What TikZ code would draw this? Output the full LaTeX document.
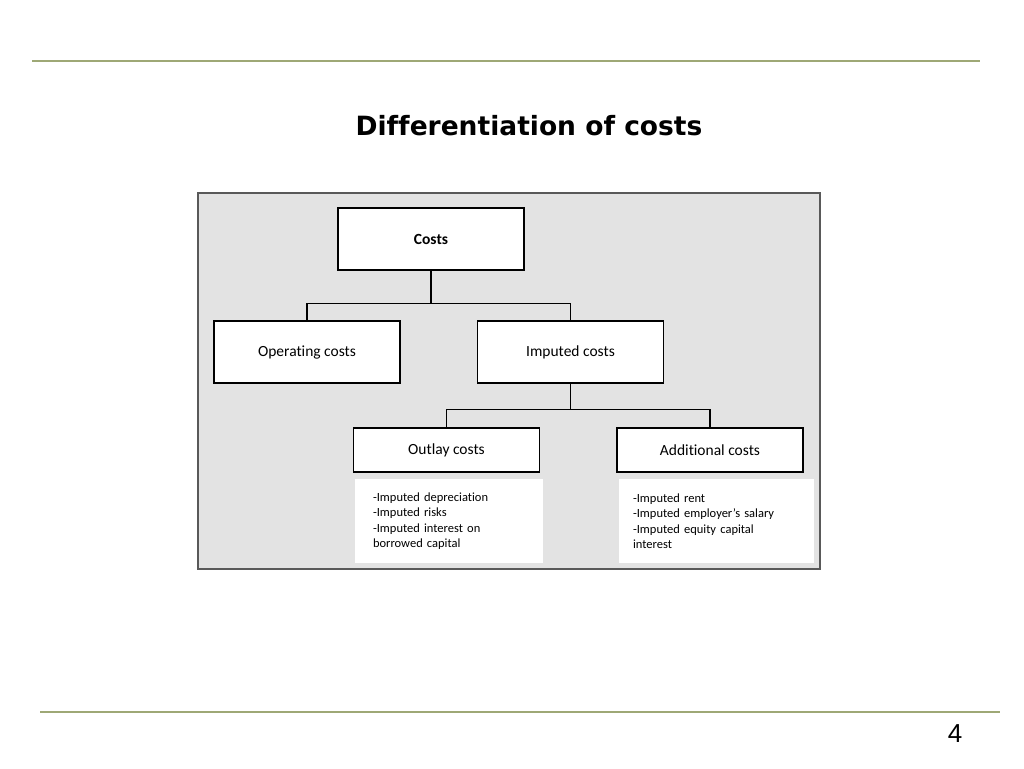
\documentclass[tikz,border=0pt]{standalone}
\usepackage{fontspec}
\setmainfont{Carlito}[Ligatures=NoCommon]
\newfontfamily\titlefont{DejaVu Sans}[Ligatures=NoCommon]
\newfontfamily\pagefont{Liberation Sans}
\usepackage{tikz}
\definecolor{ruleLine}{RGB}{158,168,118}
\colorlet{panel}{black!11}
\colorlet{panelEdge}{black!65}

\begin{document}
\begin{tikzpicture}[
  x=1pt,
  y=-1pt,
  every box/.style={
    draw=black,
    line width=1.3pt,
    fill=white,
    minimum width=186pt,
  },
  big box/.style={
    every box,
    minimum height=62pt,
    font=\fontsize{15.5}{18}\selectfont,
  },
  small box/.style={
    every box,
    minimum height=44pt,
    font=\fontsize{15.5}{18}\selectfont,
  },
  detail box/.style={
    fill=white,
    align=left,
    minimum height=84pt,
    font=\fontsize{12.5}{15.5}\selectfont,
  },
  link/.style={
    draw=black,
    line width=1.2pt,
  }
]
\useasboundingbox (0,0) rectangle (1024,768);
% rules and page number
\draw[ruleLine,line width=1.2pt] (32,61) -- (980,61);
\draw[ruleLine,line width=1.2pt] (40,712) -- (1000,712);
\node[font=\pagefont\fontsize{26}{30}\selectfont] (page) at (955,734) {4};
\node[font=\titlefont\bfseries\fontsize{26.5}{31}\selectfont] (title) at (529,126) {Differentiation of costs};
% panel
\draw[fill=panel,draw=panelEdge,line width=1.3pt] (198,193) rectangle (820,569);
% boxes
\node[big box,font=\bfseries\fontsize{15.5}{18}\selectfont] (costs) at (431,239) {Costs};
\node[big box] (operating) at (307,352) {Operating costs};
\node[big box] (imputed) at (570.5,352) {Imputed costs};
\node[small box] (outlay) at (446.5,450) {Outlay costs};
\node[small box] (additional) at (710,450) {Additional costs};
\node[detail box,text width=152pt,inner xsep=18pt] (outlaydetail) at (449,521)
  {-Imputed depreciation\\-Imputed risks\\-Imputed interest on\\borrowed capital};
\node[detail box,text width=167pt,inner xsep=14pt] (additionaldetail) at (716.5,521)
  {-Imputed rent\\-Imputed employer\char"0027 s salary\\-Imputed equity capital\\interest};
% links
\draw[link] (costs.south) -- ++(0,33) coordinate (split1);
\foreach \k in {operating,imputed} {
  \draw[link] (split1) -| (\k.north);
}
\draw[link] (imputed.south) -- ++(0,26) coordinate (split2);
\foreach \k in {outlay,additional} {
  \draw[link] (split2) -| (\k.north);
}
\end{tikzpicture}
\end{document}
